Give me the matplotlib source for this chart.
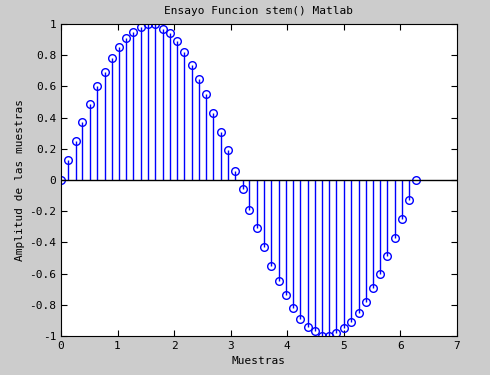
import matplotlib
matplotlib.use("Agg")
import matplotlib.pyplot as plt
from matplotlib.ticker import FuncFormatter

# muestras
muestras_x = [0.00, 0.13, 0.26, 0.38, 0.51, 0.64, 0.77, 0.90, 1.03, 1.15,
              1.28, 1.41, 1.54, 1.67, 1.80, 1.92, 2.05, 2.18, 2.31, 2.44,
              2.56, 2.69, 2.82, 2.95, 3.08, 3.21, 3.33, 3.46, 3.59, 3.72,
              3.85, 3.97, 4.10, 4.23, 4.36, 4.49, 4.62, 4.74, 4.87, 5.00,
              5.13, 5.26, 5.39, 5.51, 5.64, 5.77, 5.90, 6.03, 6.16, 6.28]
amplitud = [0.00, 0.13, 0.25, 0.37, 0.49, 0.60, 0.69, 0.78, 0.85, 0.91,
            0.95, 0.98, 1.00, 1.00, 0.97, 0.94, 0.89, 0.82, 0.74, 0.65,
            0.55, 0.43, 0.31, 0.19, 0.06, -0.06, -0.19, -0.31, -0.43, -0.55,
            -0.65, -0.74, -0.82, -0.89, -0.94, -0.97, -1.00, -1.00, -0.98, -0.95,
            -0.91, -0.85, -0.78, -0.69, -0.60, -0.49, -0.37, -0.25, -0.13, 0.00]

x_ticks = [0, 1, 2, 3, 4, 5, 6, 7]
y_ticks = [-1, -0.8, -0.6, -0.4, -0.2, 0, 0.2, 0.4, 0.6, 0.8, 1]

plt.rcParams["font.family"] = "DejaVu Sans Mono"
plt.rcParams["font.size"] = 8

fig = plt.figure(figsize=(4.9, 3.75), dpi=100, facecolor="#cccccc")
ax = fig.add_axes([0.1245, 0.104, 0.808, 0.832])

markerline, stemlines, baseline = ax.stem(muestras_x, amplitud, linefmt="b-",
                                          markerfmt="bo", basefmt="k-")
markerline.set_markerfacecolor("none")
markerline.set_markersize(5.5)
markerline.set_markeredgewidth(1)
stemlines.set_linewidth(1)
baseline.set_xdata([0, 7])
baseline.set_linewidth(1)
baseline.set_color("black")

ax.set_xlim(0, 7)
ax.set_ylim(-1, 1)
ax.set_xticks(x_ticks)
ax.set_yticks(y_ticks)
ax.yaxis.set_major_formatter(FuncFormatter(lambda v, p: f"{v:g}"))
ax.tick_params(direction="in", top=True, right=True, length=4, width=0.8)
for s in ax.spines.values():
    s.set_linewidth(0.8)

ax.set_title("Ensayo Funcion stem() Matlab", fontsize=8, pad=7)
ax.set_xlabel("Muestras", labelpad=4)
ax.set_ylabel("Amplitud de las muestras", labelpad=3)

fig.savefig("out.png", dpi=100, facecolor=fig.get_facecolor())
